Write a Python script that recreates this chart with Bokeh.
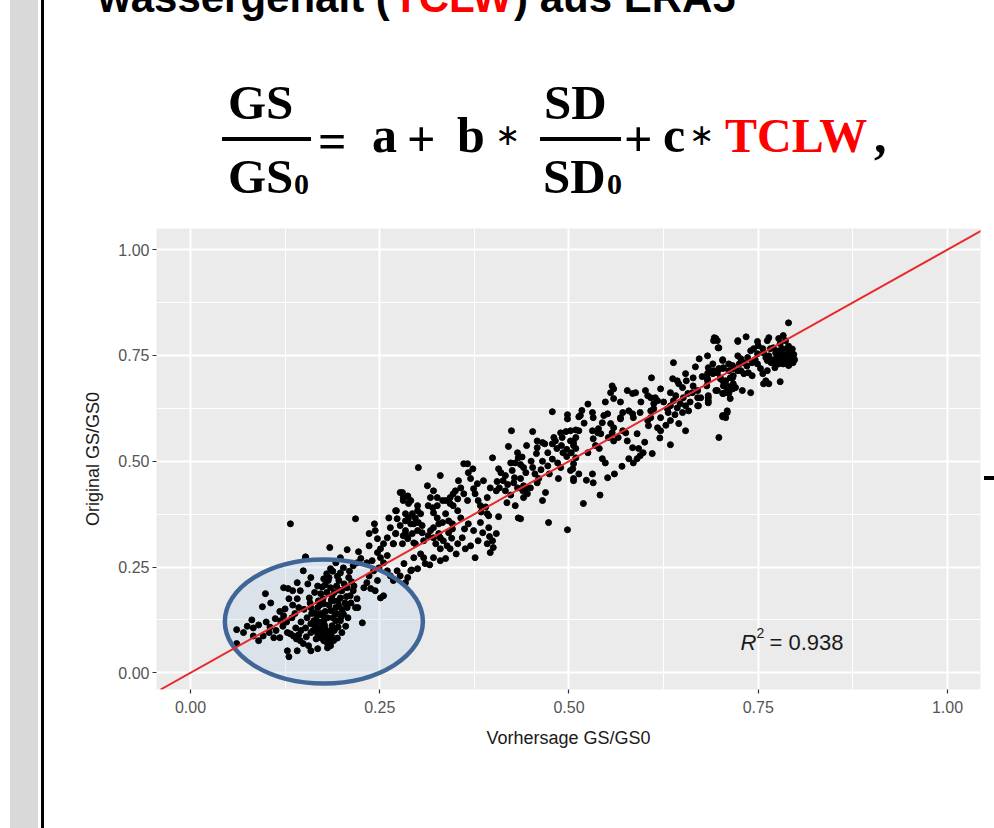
from bokeh.plotting import figure
from bokeh.layouts import column
from bokeh.models import Label, FixedTicker, Range1d, Slope, NumeralTickFormatter, Div
from bokeh.embed import file_html
from bokeh.resources import INLINE

# ---------------- data ----------------
x_ticks = [0.0, 0.25, 0.5, 0.75, 1.0]
x_minor = [0.125, 0.375, 0.625, 0.875]
y_ticks = [0.0, 0.25, 0.5, 0.75, 1.0]
y_minor = [0.125, 0.375, 0.625, 0.875]

r2_text = "= 0.938"

# lower cluster (Vorhersage, Original)
pts_low = [
    (0.061,0.102),(0.061,0.069),(0.081,0.125),(0.083,0.106),(0.090,0.113),(0.083,0.087),(0.095,0.156),(0.099,0.187),
    (0.106,0.165),(0.090,0.076),(0.096,0.087),(0.104,0.095),(0.110,0.083),(0.112,0.128),(0.119,0.123),(0.118,0.083),
    (0.123,0.135),(0.125,0.151),(0.129,0.199),(0.135,0.194),(0.130,0.175),(0.141,0.213),(0.145,0.194),(0.155,0.210),
    (0.157,0.177),(0.128,0.095),(0.132,0.092),(0.139,0.106),(0.136,0.087),(0.143,0.090),(0.145,0.076),(0.149,0.069),
    (0.128,0.052),(0.130,0.038),(0.141,0.052),(0.156,0.064),(0.154,0.130),(0.152,0.106),(0.159,0.095),(0.159,0.116),
    (0.163,0.123),(0.163,0.142),(0.168,0.154),(0.169,0.170),(0.172,0.187),(0.174,0.203),(0.176,0.222),(0.180,0.234),
    (0.182,0.218),(0.185,0.201),(0.187,0.182),(0.189,0.170),(0.192,0.154),(0.185,0.147),(0.181,0.130),(0.176,0.123),
    (0.172,0.106),(0.168,0.092),(0.172,0.083),(0.176,0.076),(0.181,0.069),(0.185,0.064),(0.189,0.076),(0.182,0.092),
    (0.178,0.104),(0.187,0.111),(0.192,0.123),(0.194,0.139),(0.196,0.158),(0.198,0.177),(0.200,0.194),(0.196,0.218),
    (0.198,0.236),(0.202,0.248),(0.209,0.225),(0.207,0.201),(0.211,0.182),(0.215,0.194),(0.220,0.175),(0.218,0.154),
    (0.227,0.118),(0.229,0.201),(0.233,0.213),(0.236,0.229),(0.238,0.199),(0.244,0.194),(0.251,0.177),(0.255,0.182),
    (0.247,0.218),(0.242,0.241),(0.249,0.248),(0.255,0.260),(0.260,0.241),(0.264,0.229),(0.268,0.218),(0.277,0.229),
    (0.284,0.213),(0.287,0.225),(0.273,0.241),(0.282,0.258),(0.292,0.243),(0.260,0.277),(0.251,0.272),(0.247,0.284),
    (0.240,0.265),(0.233,0.260),(0.225,0.270),(0.220,0.260),(0.215,0.253),(0.251,0.293),(0.255,0.305),(0.268,0.305),
    (0.280,0.305),(0.287,0.317),(0.295,0.307),(0.293,0.329),(0.284,0.329),(0.271,0.329),(0.260,0.319),(0.247,0.317),
    (0.236,0.300),(0.264,0.343),(0.277,0.348),(0.291,0.352),(0.300,0.336),(0.262,0.366),(0.272,0.383),(0.284,0.376),
    (0.293,0.376),(0.300,0.395),(0.280,0.426),(0.287,0.416),(0.281,0.407),(0.288,0.400),
    (0.132,0.352),(0.218,0.364),(0.184,0.296),(0.207,0.291),(0.152,0.272),(0.222,0.286),(0.243,0.352),(0.236,0.329),
    (0.244,0.336),(0.159,0.225),(0.149,0.241),(0.141,0.175),(0.123,0.201),(0.143,0.154),(0.159,0.154),(0.176,0.163),
    (0.169,0.139),(0.185,0.246),(0.192,0.260),(0.198,0.272),(0.152,0.274),(0.159,0.052),(0.168,0.057),(0.181,0.059),
    (0.198,0.123),(0.202,0.139),(0.207,0.154),(0.221,0.154),
    (0.165,0.110),(0.170,0.120),(0.175,0.135),(0.178,0.145),(0.183,0.160),(0.186,0.172),(0.190,0.190),(0.193,0.205),
    (0.180,0.190),(0.175,0.175),(0.171,0.160),(0.167,0.135),(0.162,0.100),(0.166,0.080),(0.179,0.088),(0.184,0.098),
    (0.188,0.130),(0.191,0.140),(0.195,0.170),(0.197,0.195),(0.203,0.210),(0.206,0.180),(0.204,0.165),(0.200,0.150),
    (0.199,0.132),(0.195,0.108),(0.190,0.100),(0.186,0.088),(0.177,0.113),(0.173,0.140),(0.170,0.100),(0.160,0.140),
    (0.158,0.165),(0.164,0.190),(0.168,0.205),(0.178,0.208),(0.183,0.225),(0.188,0.240),(0.194,0.228),(0.210,0.240),
    (0.213,0.215),(0.216,0.205),(0.212,0.165),(0.208,0.130),(0.205,0.110),(0.200,0.095),(0.194,0.082),(0.184,0.078),
    (0.174,0.093),(0.166,0.125),(0.070,0.095),(0.075,0.110),(0.100,0.120),(0.105,0.108),(0.113,0.100),(0.118,0.145),
    (0.122,0.110),(0.127,0.120),(0.134,0.130),(0.138,0.140),(0.146,0.120),(0.150,0.150),(0.146,0.100),(0.140,0.080),
    (0.153,0.085),(0.135,0.160),
]

pts_mid = [
    (0.478,0.617),(0.498,0.610),(0.498,0.600),(0.513,0.605),(0.424,0.572),(0.452,0.570),(0.444,0.537),(0.458,0.548),
    (0.465,0.544),(0.468,0.541),(0.480,0.556),(0.482,0.548),(0.478,0.541),(0.489,0.567),(0.491,0.556),(0.502,0.572),
    (0.509,0.574),(0.509,0.556),(0.506,0.537),(0.458,0.532),(0.472,0.520),(0.457,0.518),(0.432,0.520),(0.433,0.508),
    (0.399,0.508),(0.407,0.482),(0.410,0.473),(0.423,0.496),(0.429,0.496),(0.436,0.492),(0.440,0.485),(0.443,0.473),
    (0.425,0.478),(0.428,0.461),(0.427,0.449),(0.432,0.437),(0.436,0.459),(0.440,0.442),(0.439,0.430),(0.445,0.437),
    (0.452,0.485),(0.460,0.459),(0.458,0.449),(0.472,0.489),(0.474,0.470),(0.485,0.496),(0.489,0.485),(0.502,0.478),
    (0.506,0.459),(0.486,0.459),(0.469,0.426),(0.465,0.407),(0.473,0.355),(0.498,0.338),(0.449,0.437),(0.445,0.423),
    (0.440,0.414),(0.429,0.395),(0.433,0.366),(0.436,0.364),(0.416,0.466),(0.413,0.454),(0.408,0.437),(0.404,0.430),
    (0.416,0.430),(0.396,0.437),(0.392,0.414),(0.387,0.454),(0.379,0.447),(0.374,0.435),(0.376,0.423),(0.380,0.407),
    (0.383,0.395),(0.392,0.376),(0.394,0.371),(0.407,0.369),(0.370,0.459),(0.367,0.473),(0.373,0.482),(0.366,0.494),
    (0.361,0.494),(0.357,0.437),(0.350,0.430),(0.347,0.423),(0.343,0.414),(0.354,0.454),(0.353,0.411),(0.361,0.423),
    (0.366,0.407),(0.394,0.343),(0.395,0.322),(0.399,0.312),(0.392,0.305),(0.400,0.296),(0.396,0.284),(0.404,0.329),
    (0.370,0.300),(0.376,0.272),(0.359,0.319),(0.353,0.305),(0.351,0.281),(0.346,0.340),(0.341,0.331),(0.334,0.312),
    (0.339,0.300),(0.343,0.293),(0.337,0.376),(0.341,0.359),(0.346,0.352),(0.333,0.355),(0.337,0.407),(0.343,0.400),
    (0.347,0.395),(0.353,0.383),(0.357,0.366),(0.330,0.466),(0.301,0.485),(0.333,0.407),(0.326,0.395),(0.320,0.390),
    (0.321,0.378),(0.326,0.366),(0.328,0.352),(0.321,0.343),(0.317,0.336),(0.328,0.329),(0.330,0.319),(0.314,0.324),
    (0.306,0.331),(0.308,0.312),(0.321,0.319),(0.324,0.305),(0.330,0.293),(0.337,0.270),(0.313,0.442),(0.321,0.430),
    (0.326,0.414),(0.317,0.414),(0.314,0.395),(0.300,0.383),(0.304,0.376),(0.297,0.366),(0.295,0.352),(0.301,0.355),
    (0.306,0.348),(0.291,0.407),(0.288,0.366),(0.284,0.359),(0.284,0.336),(0.281,0.324),(0.287,0.319),(0.277,0.426),
    (0.281,0.414),(0.287,0.418),(0.271,0.383),(0.273,0.364),(0.271,0.329),(0.268,0.305),(0.304,0.281),(0.308,0.272),
    (0.310,0.258),(0.300,0.246),(0.291,0.241),(0.297,0.305),(0.295,0.272),(0.330,0.265),(0.363,0.293),(0.380,0.312),
    (0.374,0.336),(0.383,0.355),(0.386,0.331),(0.367,0.352),
    (0.321,0.272),(0.316,0.255),(0.345,0.318),(0.362,0.340),(0.384,0.380),(0.390,0.392),(0.418,0.402),(0.423,0.420),
    (0.419,0.445),(0.455,0.470),(0.463,0.480),(0.478,0.505),(0.492,0.520),(0.497,0.528),(0.484,0.530),(0.465,0.500),
    (0.450,0.500),(0.438,0.510),(0.420,0.535),(0.405,0.452),
]

pts_upper = [
    (0.692,0.792),(0.696,0.785),(0.698,0.768),(0.723,0.785),(0.683,0.749),(0.690,0.730),(0.638,0.733),(0.667,0.723),
    (0.703,0.738),(0.704,0.721),(0.698,0.719),(0.696,0.709),(0.711,0.730),(0.717,0.721),(0.723,0.714),(0.691,0.714),
    (0.684,0.709),(0.683,0.707),(0.654,0.707),(0.637,0.695),(0.643,0.690),(0.645,0.683),(0.650,0.674),(0.664,0.697),
    (0.664,0.678),(0.670,0.667),(0.683,0.690),(0.682,0.678),(0.700,0.695),(0.707,0.690),(0.709,0.678),(0.716,0.697),
    (0.717,0.683),(0.720,0.674),(0.696,0.667),(0.703,0.660),(0.716,0.671),(0.711,0.660),(0.609,0.697),(0.557,0.678),
    (0.559,0.671),(0.555,0.662),(0.577,0.667),(0.584,0.660),(0.588,0.662),(0.601,0.667),(0.604,0.655),(0.608,0.650),
    (0.614,0.650),(0.617,0.643),(0.612,0.636),(0.621,0.671),(0.634,0.662),(0.641,0.655),(0.638,0.643),(0.634,0.631),
    (0.643,0.626),(0.647,0.636),(0.651,0.650),(0.657,0.660),(0.663,0.662),(0.654,0.631),(0.650,0.615),(0.658,0.619),
    (0.670,0.631),(0.674,0.650),(0.684,0.650),(0.684,0.638),(0.709,0.619),(0.707,0.603),(0.703,0.605),(0.713,0.648),
    (0.698,0.556),(0.559,0.648),(0.579,0.619),(0.584,0.612),(0.585,0.603),(0.571,0.615),(0.568,0.603),(0.594,0.615),
    (0.608,0.619),(0.608,0.603),(0.612,0.624),(0.621,0.603),(0.630,0.624),(0.631,0.615),(0.634,0.596),(0.645,0.589),
    (0.654,0.572),(0.634,0.539),(0.604,0.596),(0.605,0.584),(0.617,0.579),(0.621,0.572),(0.551,0.612),(0.546,0.608),
    (0.544,0.591),(0.539,0.577),(0.538,0.567),(0.542,0.565),(0.555,0.589),(0.559,0.579),(0.557,0.567),(0.552,0.556),
    (0.559,0.548),(0.568,0.600),(0.571,0.572),(0.575,0.567),(0.565,0.556),(0.577,0.548),(0.584,0.532),(0.590,0.565),
    (0.598,0.520),(0.592,0.530),(0.594,0.513),(0.590,0.506),(0.585,0.496),(0.579,0.506),(0.610,0.518),(0.531,0.615),
    (0.532,0.603),(0.531,0.572),(0.532,0.553),(0.535,0.537),(0.515,0.608),(0.513,0.572),(0.506,0.544),(0.509,0.530),
    (0.502,0.548),(0.517,0.620),(0.520,0.590),(0.496,0.570),(0.490,0.537),(0.503,0.520),(0.497,0.511),(0.509,0.508),
    (0.506,0.494),(0.505,0.482),(0.513,0.470),(0.506,0.454),(0.531,0.470),(0.532,0.449),(0.551,0.461),(0.519,0.400),
    (0.548,0.496),(0.544,0.506),
    (0.541,0.420),(0.523,0.455),(0.560,0.470),(0.570,0.488),(0.525,0.520),(0.540,0.530),(0.620,0.555),(0.628,0.585),
    (0.600,0.545),(0.640,0.610),(0.660,0.640),(0.676,0.700),(0.672,0.742),(0.655,0.690),(0.625,0.640),(0.595,0.640),
    (0.568,0.640),(0.548,0.640),(0.525,0.635),
]

pts_top = [
    (0.790,0.827),(0.694,0.790),(0.691,0.785),(0.723,0.783),(0.734,0.794),(0.697,0.768),(0.749,0.783),(0.750,0.773),
    (0.756,0.766),(0.764,0.792),(0.762,0.785),(0.777,0.790),(0.779,0.778),(0.783,0.797),(0.786,0.785),(0.703,0.740),
    (0.684,0.721),(0.723,0.749),(0.727,0.742),(0.731,0.733),(0.736,0.745),(0.740,0.761),(0.744,0.766),(0.749,0.754),
    (0.742,0.733),(0.757,0.756),(0.764,0.749),(0.766,0.766),(0.770,0.768),(0.773,0.756),(0.777,0.761),(0.782,0.766),
    (0.789,0.768),(0.790,0.761),(0.793,0.749),(0.775,0.745),(0.779,0.742),(0.783,0.749),(0.786,0.738),(0.789,0.733),
    (0.790,0.726),(0.783,0.730),(0.777,0.730),(0.773,0.733),(0.772,0.721),(0.767,0.733),(0.762,0.738),(0.749,0.730),
    (0.753,0.719),(0.756,0.707),(0.762,0.714),(0.760,0.690),(0.764,0.683),(0.757,0.683),(0.779,0.688),(0.716,0.726),
    (0.717,0.719),(0.711,0.714),(0.703,0.719),(0.696,0.714),(0.690,0.707),(0.683,0.695),(0.700,0.697),(0.703,0.690),
    (0.713,0.697),(0.717,0.702),(0.727,0.714),(0.731,0.707),(0.737,0.709),(0.742,0.702),(0.704,0.678),(0.709,0.671),
    (0.704,0.660),(0.716,0.678),(0.716,0.671),(0.729,0.667),(0.740,0.662),(0.694,0.667),(0.684,0.655),(0.684,0.643),
    (0.670,0.650),(0.671,0.631),(0.709,0.615),(0.703,0.608),
    (0.795,0.745),(0.792,0.738),(0.797,0.752),(0.794,0.757),(0.798,0.740),(0.791,0.728),(0.796,0.733),(0.788,0.752),
    (0.785,0.748),(0.795,0.765),(0.790,0.772),(0.787,0.742),(0.781,0.756),(0.776,0.752),(0.780,0.734),(0.770,0.740),
    (0.760,0.745),(0.746,0.740),(0.735,0.725),(0.725,0.730),
]

all_pts = pts_low + pts_mid + pts_upper + pts_top
vorhersage = [p_[0] for p_ in all_pts]
original = [p_[1] for p_ in all_pts]

# ---------------- layout (page pixels) ----------------
W, H = 994, 828
FL, FR, FT, FB = 156, 980, 228, 689   # plot panel edges
HH = FT                               # height of the slide header strip


def css_layers(deco):
    return {
        "background-color": "white",
        "background-image": ", ".join(f"linear-gradient({c}, {c})" for *_, c in deco),
        "background-size": ", ".join(f"{w}px {h}px" for _, _, w, h, _ in deco),
        "background-position": ", ".join(f"{l}px {t}px" for l, t, _, _, _ in deco),
        "background-repeat": "no-repeat",
    }


# slide decorations: (left, top, width, height, colour) in each element's own pixels
deco_header = [
    (10, 0, 28, HH, "#D9D9D9"),    # grey side bar
    (41, 0, 3, HH, "#000000"),     # black rule
    (222, 137, 89, 4, "#000000"),  # fraction bar GS/GS0
    (540, 137, 81, 4, "#000000"),  # fraction bar SD/SD0
]
deco_main = [
    (10, 0, 28, H - HH, "#D9D9D9"),
    (41, 0, 3, H - HH, "#000000"),
    (984, 476 - HH, 10, 4, "#000000"),  # small dash at the right edge
]

# ---------------- header: cut-off slide title and formula ----------------
ASC = 0.84  # baseline offset (em) of a line-height:1 box for these fonts


def span(x, base, text, size, color="#000000", family="Liberation Serif", weight="bold"):
    top = base - ASC * size
    return (f'<span style="position:absolute;left:{x}px;top:{top:.1f}px;'
            f"font-family:'{family}';font-size:{size}px;font-weight:{weight};"
            f'line-height:1;color:{color};white-space:pre;">{text}</span>')


parts = [
    # cut-off slide title
    span(98, 12, "wassergehalt (", 42, family="Liberation Sans"),
    span(393, 12, "TCLW", 42, color="#FF0000", family="Liberation Sans"),
    span(514, 12, ") aus ERA5", 42, family="Liberation Sans"),
    # formula
    span(228, 119, "GS", 49),
    span(228, 193, "GS", 49),
    span(294, 194, "0", 30),
    span(318, 158, "=", 50),
    span(372, 152, "a", 50),
    span(407, 156, "+", 50),
    span(457, 152, "b", 50),
    span(495, 145, "\u2217", 30, family="DejaVu Sans", weight="normal"),
    span(544, 119, "SD", 49),
    span(543, 193, "SD", 49),
    span(607, 194, "0", 30),
    span(624, 156, "+", 50),
    span(663, 152, "c", 50),
    span(689, 145, "\u2217", 30, family="DejaVu Sans", weight="normal"),
    span(725, 152, "TCLW", 48, color="#FF0000"),
    span(874, 152, ",", 50),
]
header_html = (f'<div style="position:relative;width:{W}px;height:{HH}px;overflow:hidden;">'
               + "".join(parts) + "</div>")
hdr = Div(text=header_html, width=W, height=HH, margin=(0, 0, 0, 0),
          styles=css_layers(deco_header))

# ---------------- main scatter plot ----------------
p = figure(width=W, height=H - HH, output_backend="svg", toolbar_location=None,
           x_range=Range1d(-0.0449, 1.0436), y_range=Range1d(-0.0395, 1.050),
           min_border_left=FL, min_border_right=W - FR, min_border_top=FT - HH, min_border_bottom=H - FB,
           x_axis_label="Vorhersage GS/GS0", y_axis_label="Original GS/GS0")
p.margin = (0, 0, 0, 0)
p.styles = css_layers(deco_main)
p.background_fill_color = "#EBEBEB"
p.border_fill_color = None
p.outline_line_color = None

p.xaxis.ticker = FixedTicker(ticks=x_ticks, minor_ticks=x_minor)
p.yaxis.ticker = FixedTicker(ticks=y_ticks, minor_ticks=y_minor)
for ax in (p.xaxis, p.yaxis):
    ax.formatter = NumeralTickFormatter(format="0.00")
    ax.axis_line_color = None
    ax.major_tick_line_color = "#333333"
    ax.major_tick_line_width = 1.2
    ax.major_tick_in = 0
    ax.major_tick_out = 4
    ax.minor_tick_line_color = None
    ax.major_label_text_color = "#555555"
    ax.major_label_text_font = "Liberation Sans"
    ax.major_label_text_font_size = "16px"
    ax.axis_label_text_font = "Liberation Sans"
    ax.axis_label_text_font_style = "normal"
    ax.axis_label_text_font_size = "18px"
    ax.axis_label_text_color = "#1A1A1A"
p.yaxis.major_label_standoff = 3
p.yaxis.axis_label_standoff = 12
p.xaxis.major_label_standoff = 7
p.xaxis.axis_label_standoff = 12

for g in (p.xgrid, p.ygrid):
    g.grid_line_color = "white"
    g.grid_line_width = 2
    g.minor_grid_line_color = "white"
    g.minor_grid_line_width = 1

# ellipse highlight
ell_x, ell_y, ell_w, ell_h = 0.1762, 0.1213, 0.2616, 0.2931
p.ellipse(x=[ell_x], y=[ell_y], width=[ell_w], height=[ell_h],
          fill_color="#A0BEE6", fill_alpha=0.2, line_color=None)

p.scatter(vorhersage, original, size=6, color="black")

p.add_layout(Slope(gradient=1, y_intercept=0, line_color="#E8282B", line_width=2))

p.ellipse(x=[ell_x], y=[ell_y], width=[ell_w], height=[ell_h],
          fill_color=None, line_color="#3F6697", line_width=4.5)

# R^2 annotation
r2_x, r2_y = 0.7266, 0.0716
p.add_layout(Label(x=r2_x, y=r2_y, text="R", text_font="Liberation Sans", text_font_style="italic",
                   text_font_size="22px", text_color="#1A1A1A", text_baseline="alphabetic"))
p.add_layout(Label(x=r2_x, y=r2_y, x_offset=16, y_offset=9, text="2", text_font="Liberation Sans",
                   text_font_size="14px", text_color="#1A1A1A", text_baseline="alphabetic"))
p.add_layout(Label(x=r2_x, y=r2_y, x_offset=29, text=r2_text, text_font="Liberation Sans",
                   text_font_size="22px", text_color="#1A1A1A", text_baseline="alphabetic"))

page = column(hdr, p, spacing=0)
open("out.html", "w").write(file_html(page, INLINE))
